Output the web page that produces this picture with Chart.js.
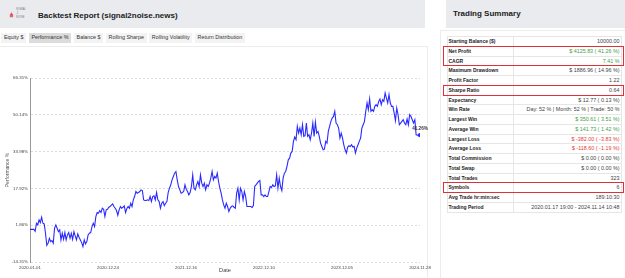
<!DOCTYPE html>
<html>
<head>
<meta charset="utf-8">
<title>Backtest Report</title>
<script src="https://cdn.jsdelivr.net/npm/chart.js@4.4.1/dist/chart.umd.min.js"></script>
<style>
body{margin:0;width:625px;height:278px;overflow:hidden;background:#fff;position:relative;font-family:"Liberation Sans",Arial,sans-serif;color:#222}
.bar{position:absolute;top:0;height:28px;background:#e9ebee}
.bar h1{position:absolute;margin:0;font-size:8px;line-height:9px;font-weight:bold;color:#222}
#logo{position:absolute;left:8px;top:7px;width:20px;height:14px}
#logo .mark{position:absolute;left:1px;top:5px;font-size:6px;line-height:6px;color:#d33;font-weight:bold}
#logo .txt{position:absolute;left:8px;top:1px;font-size:2.6px;line-height:4px;color:#777;letter-spacing:.1px}
#tabs{position:absolute;left:1.3px;top:33.3px;display:flex;gap:2.6px}
#tabs span{display:block;height:9.4px;line-height:9.4px;padding:0 2.7px;font-size:5.4px;color:#333;background:#f3f3f3;white-space:nowrap}
#tabs span.on{background:#dcdcdc}
#panel{position:absolute;left:-1px;top:46px;width:427px;height:240px;border:1px solid #ececec}
#chartBox{position:absolute;left:0;top:47px}
#side{position:absolute;left:440px;top:30px;width:190px;height:260px;border-left:1px solid #ececec;border-top:1px solid #ececec}
#sum{position:absolute;left:447px;top:36px;width:175px}
.row{position:absolute;left:0;width:175px;height:10px;border-top:1px solid #e6e6e6;box-sizing:border-box}
.row b{position:absolute;left:1.5px;top:0;line-height:8.75px;font-size:5px;color:#222}
.row i{position:absolute;right:2.5px;top:0;line-height:8.75px;font-size:5.4px;font-style:normal;color:#444;white-space:nowrap}
.row i.g{color:#43a047}
.row i.r{color:#e53935}
#sum .vl{position:absolute;left:66px;top:0;width:1px;background:#e6e6e6}
#sum .ol{position:absolute;left:0;top:0;width:175px;border:1px solid #e6e6e6;box-sizing:border-box}
.hl{position:absolute;left:443px;width:181px;border:1px solid #e0313a;box-sizing:border-box;z-index:5}
</style>
</head>
<body>
<div class="bar" style="left:0;width:425px">
  <div id="logo"><span class="mark">&#8916;</span><span class="txt">SIGNAL<br>&nbsp;2<br>NOISE</span></div>
  <h1 style="left:38px;top:10.5px">Backtest Report (signal2noise.news)</h1>
</div>
<div class="bar" style="left:446px;width:179px">
  <h1 style="left:7px;top:9px">Trading Summary</h1>
</div>
<div id="tabs">
  <span>Equity $</span><span class="on">Performance %</span><span>Balance $</span><span>Rolling Sharpe</span><span>Rolling Volatility</span><span>Return Distribution</span>
</div>
<div id="panel"></div>
<div id="side"></div>
<div id="chartBox"><canvas id="perfChart" width="440" height="231"></canvas></div>
<div id="sum"></div>
<script>
// equity curve in %, in trade order
const performance = [0,0,0,0,-0.84,2.67,1.94,4.13,2.97,5.30,2.67,2.38,-1.72,-6.99,-6.11,-3.91,-5.38,-4.94,-6.11,0.47,1.94,0.47,-0.98,-0.25,-4.64,-1.72,-4.35,-1.42,-4.64,-2.45,-1.42,-3.91,-1.72,-4.35,-0.98,-2.89,-4.64,-2.01,-3.47,-4.64,-5.81,-7.57,-4.64,-6.40,-5.38,-2.45,-1.72,-1.42,1.21,2.67,1.21,5.60,7.35,7.06,8.23,7.35,9.26,8.82,5.60,8.53,8.82,9.69,9.99,10.57,11.16,9.99,9.26,8.23,6.18,8.53,9.99,9.26,9.69,10.28,7.35,9.11,9.99,9.26,11.45,9.99,12.91,14.37,16.57,15.84,16.13,16.57,17.30,17.01,12.91,12.61,12.61,12.91,12.61,14.37,12.18,14.37,14.67,12.91,16.13,12.91,12.18,9.26,11.45,12.18,10.43,11.45,12.18,16.13,18.03,19.50,21.69,23.16,24.62,25.35,21.69,18.77,17.30,15.84,16.13,16.57,19.50,17.59,16.57,15.11,16.13,18.77,23.89,18.03,17.30,19.50,20.96,18.77,23.89,20.23,18.77,20.23,17.30,19.50,18.77,20.23,22.43,25.35,21.69,23.16,22.43,24.62,20.96,18.03,15.84,12.91,10.72,9.26,11.45,9.99,7.79,9.26,9.99,10.28,9.69,9.26,15.84,18.03,12.91,18.03,16.57,12.91,16.57,14.37,9.99,9.99,9.99,9.99,9.55,10.43,18.77,19.50,20.23,20.96,21.40,15.11,15.11,14.37,15.11,14.37,14.37,16.57,18.77,18.33,19.50,18.77,19.06,23.89,18.03,22.43,18.77,17.01,22.43,24.62,25.35,27.54,30.47,31.20,33.40,34.13,38.52,40.42,39.25,45.10,42.17,44.37,41.44,45.83,40.71,41.00,46.56,40.71,41.44,39.25,42.17,46.56,40.71,47.00,42.17,42.90,40.71,37.78,36.32,34.86,35.15,38.52,37.78,42.90,45.10,47.30,48.76,49.49,51.68,46.56,45.83,44.37,39.98,42.17,39.98,37.05,34.86,33.40,36.03,36.61,36.32,37.05,36.03,36.32,33.40,35.59,37.05,38.52,39.98,44.37,45.83,47.30,51.68,55.34,52.41,57.10,51.68,52.41,51.68,53.88,54.61,53.88,56.07,57.10,54.61,56.80,56.07,59.73,57.53,55.34,58.99,55.34,53.88,53.88,50.95,47.59,53.15,50.22,45.83,46.56,47.30,48.03,46.56,45.83,48.32,45.83,50.22,49.49,48.03,46.56,48.03,41.44,41.26,41.26,41.26];
const xTickLabels = ['2020.01.01','2020.12.24','2021.12.16','2022.12.10','2023.12.05','2024.11.28'];
const yTickLabels = ['-14.31%','1.86%','17.92%','33.98%','50.14%','66.31%'];
const yMin = -14.31, yMax = 66.31;
const lastLabel = '41.26%';

const summaryRows = [
  ['Starting Balance ($)','10000.00',''],
  ['Net Profit','$ 4125.83 ( 41.26 %)','g'],
  ['CAGR','7.41 %','g'],
  ['Maximum Drawdown','$ 1886.96 ( 14.96 %)',''],
  ['Profit Factor','1.22',''],
  ['Sharpe Ratio','0.64',''],
  ['Expectancy','$ 12.77 ( 0.13 %)',''],
  ['Win Rate','Day: 52 % | Month: 52 % | Trade: 50 %',''],
  ['Largest Win','$ 350.61 ( 3.51 %)','g'],
  ['Average Win','$ 141.73 ( 1.42 %)','g'],
  ['Largest Loss','$ -382.00 ( -3.83 %)','r'],
  ['Average Loss','$ -118.60 ( -1.19 %)','r'],
  ['Total Commission','$ 0.00 ( 0.00 %)',''],
  ['Total Swap','$ 0.00 ( 0.00 %)',''],
  ['Total Trades','323',''],
  ['Symbols','6',''],
  ['Avg Trade hr:min:sec','189:10:30',''],
  ['Trading Period','2020.01.17 19:00 - 2024.11.14 10:48','']
];
const highlighted = [[1,2],[5,5],[15,15]];

// summary table
const ROW_H = 9.75;
const rowTop = i => Math.round(i*ROW_H);
const sum = document.getElementById('sum');
summaryRows.forEach((r,i)=>{
  const d = document.createElement('div');
  d.className = 'row';
  d.style.top = rowTop(i)+'px';
  d.style.height = (rowTop(i+1)-rowTop(i))+'px';
  d.innerHTML = `<b>${r[0]}</b><i class="${r[2]}">${r[1]}</i>`;
  sum.appendChild(d);
});
const vl = document.createElement('div');
vl.className = 'vl'; vl.style.height = rowTop(summaryRows.length)+'px';
sum.appendChild(vl);
const ol = document.createElement('div');
ol.className = 'ol'; ol.style.height = (rowTop(summaryRows.length)+1)+'px';
sum.appendChild(ol);
highlighted.forEach(([a,b])=>{
  const box = document.createElement('div');
  box.className = 'hl';
  box.style.top = (36 + rowTop(a))+'px';
  box.style.height = (rowTop(b+1)-rowTop(a)+1)+'px';
  document.body.appendChild(box);
});

// chart
Chart.defaults.font.family = '"Liberation Sans", Arial, sans-serif';
Chart.defaults.color = '#444';

const lastIdx = performance.length - 1;
const endLabel = {
  id:'endLabel',
  afterDatasetsDraw(chart){
    const {ctx, scales:{x, y}} = chart;
    const px = x.getPixelForValue(lastIdx), py = y.getPixelForValue(performance[lastIdx]);
    ctx.save();
    ctx.font = 'bold 4.6px "Liberation Sans", Arial, sans-serif';
    ctx.fillStyle = '#333';
    ctx.textAlign = 'center';
    ctx.textBaseline = 'middle';
    ctx.fillText(lastLabel, px, py - 6);
    ctx.restore();
  }
};

new Chart(document.getElementById('perfChart'), {
  type:'line',
  data:{
    datasets:[{
      label:'Performance %',
      data: performance.map((v,i)=>({x:i, y:v})),
      borderColor:'#2a2aff',
      backgroundColor:'#2a2aff',
      borderWidth:1.1,
      tension:0,
      fill:false,
      pointRadius: c => c.dataIndex === lastIdx ? 1.6 : 0,
      pointHoverRadius:0
    }]
  },
  options:{
    responsive:false,
    animation:false,
    layout:{ padding:{ top:31, right:20, left:0, bottom:0 } },
    plugins:{ legend:{ display:false }, tooltip:{ enabled:false } },
    scales:{
      x:{
        type:'linear',
        min:0, max:lastIdx,
        afterBuildTicks: s => { s.ticks = xTickLabels.map((_,i)=>({value: i*lastIdx/(xTickLabels.length-1)})); },
        afterFit: s => { s.height = 16; },
        ticks:{ autoSkip:false, maxRotation:0, padding:3, font:{size:4.4}, color:'#444', callback:(v,i)=>xTickLabels[i] },
        grid:{ display:false, drawTicks:false },
        border:{ display:false },
        title:{ display:true, text:'Date', font:{size:5.6}, color:'#444', padding:{top:0, bottom:4.5} }
      },
      y:{
        min:yMin, max:yMax,
        afterBuildTicks: s => { s.ticks = yTickLabels.map((_,i)=>({value: yMin + i*(yMax-yMin)/(yTickLabels.length-1)})); },
        afterFit: s => { s.width = 30; },
        ticks:{ padding:2, font:{size:4.4}, color:'#444', callback:(v,i)=>yTickLabels[i] },
        grid:{ color:'#dcdcdc', drawTicks:false },
        border:{ display:true, color:'#999', width:1, dash:[2,2] },
        title:{ display:true, text:'Performance %', font:{size:5}, color:'#555', padding:{top:5, bottom:0} }
      }
    }
  },
  plugins:[endLabel]
});
</script>
</body>
</html>
